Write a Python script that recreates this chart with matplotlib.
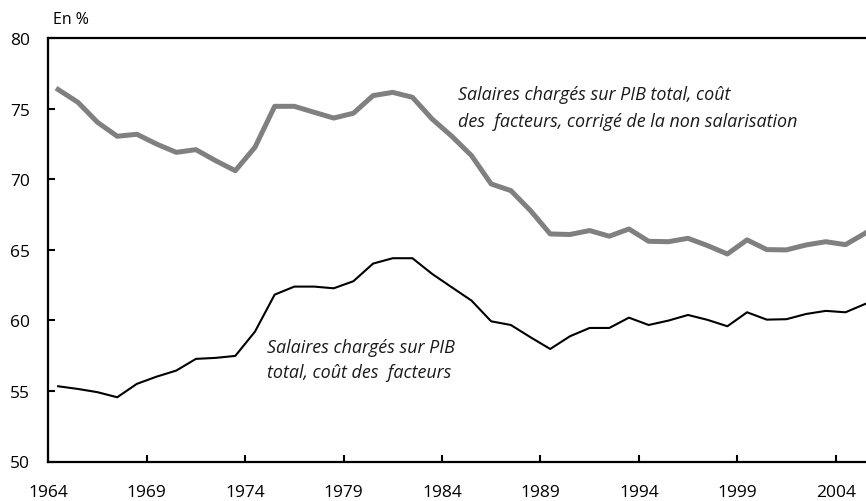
import matplotlib
matplotlib.use("Agg")
import matplotlib.pyplot as plt
import numpy as np

plt.rcParams['font.family'] = ['Open Sans', 'DejaVu Sans']

years = list(range(1964, 2006))
corrige = [76.35, 75.45, 74.03, 73.04, 73.18, 72.49, 71.9, 72.09, 71.31, 70.6,
           72.26, 75.16, 75.16, 74.74, 74.33, 74.67, 75.92, 76.15, 75.8, 74.26,
           73.04, 71.67, 69.66, 69.19, 67.77, 66.12, 66.08, 66.36, 65.96, 66.47,
           65.6, 65.57, 65.81, 65.29, 64.7, 65.7, 65.01, 64.99, 65.34, 65.57,
           65.36, 66.17]
brut = [55.33, 55.14, 54.91, 54.55, 55.5, 56.01, 56.44, 57.27, 57.34, 57.48,
        59.2, 61.82, 62.39, 62.39, 62.27, 62.77, 64.02, 64.4, 64.4, 63.29,
        62.34, 61.4, 59.93, 59.67, 58.8, 57.97, 58.87, 59.46, 59.46, 60.19,
        59.67, 59.98, 60.38, 60.03, 59.58, 60.57, 60.05, 60.08, 60.45, 60.67,
        60.57, 61.16]
xticks = list(range(1964, 2005, 5))
yticks = [50, 55, 60, 65, 70, 75, 80]

W, H = 866, 502
fig = plt.figure(figsize=(W/100, H/100), dpi=100)
ax = fig.add_axes([48.3/W, 39.5/H, (875-48.3)/W, (463-39.5)/H])

x = np.array(years) + 0.5
ax.plot(x, corrige, color='#808080', lw=3.6)
ax.plot(x, brut, color='black', lw=1.5)

ax.set_xlim(1964, 2006)
ax.set_ylim(50, 80)
ax.set_xticks(xticks)
ax.set_xticklabels([str(t) for t in xticks])
ax.set_yticks(yticks)
ax.set_yticklabels([str(t) for t in yticks])
ax.tick_params(axis='both', direction='in', length=5, width=1.5, labelsize=12.5, colors='black')
ax.tick_params(axis='x', pad=16)
ax.tick_params(axis='y', pad=13)
for s in ax.spines.values():
    s.set_linewidth(1.6)

fig.text(53/W, 1-20/H, 'En %', fontsize=11.5, va='center', ha='left')

kw = dict(transform=None, fontsize=12.9, style='italic', va='center', ha='left', color='#1a1a1a')
ax.text(458, H-95, 'Salaires chargés sur PIB total, coût', **kw)
ax.text(458, H-121.7, 'des  facteurs, corrigé de la non salarisation', **kw)
ax.text(266.7, H-348.3, 'Salaires chargés sur PIB', **kw)
ax.text(266.7, H-373.3, 'total, coût des  facteurs', **kw)

fig.savefig('out.png', dpi=100)
